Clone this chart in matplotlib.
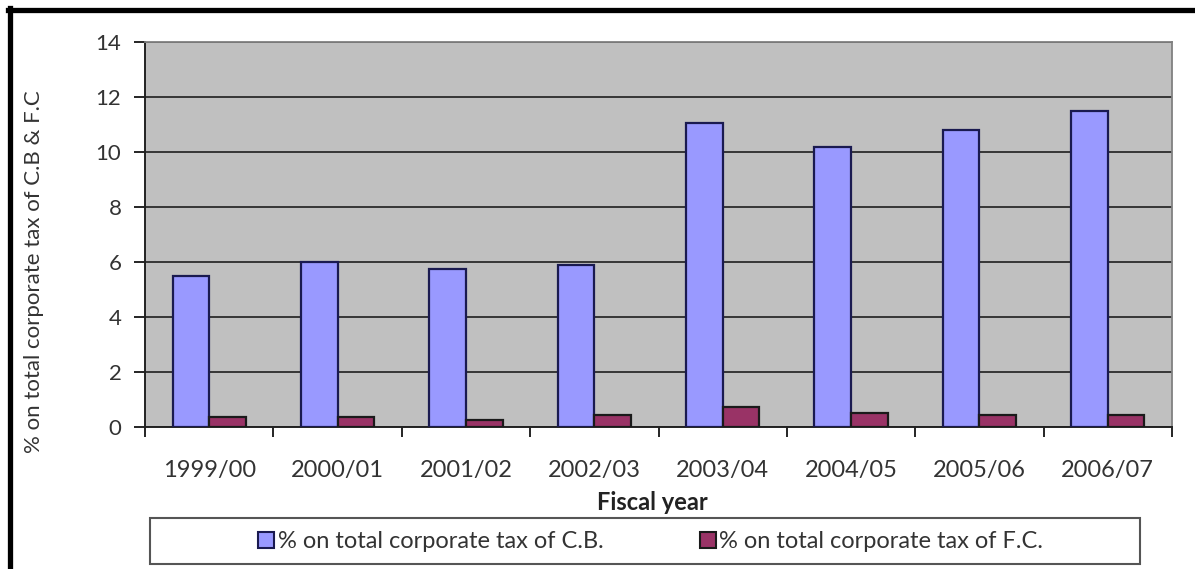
import numpy as np
import matplotlib.pyplot as plt
from matplotlib.patches import Rectangle
from matplotlib.lines import Line2D

plt.rcParams['font.family'] = ['Lato', 'DejaVu Sans']

years = ['1999/00', '2000/01', '2001/02', '2002/03', '2003/04', '2004/05', '2005/06', '2006/07']
cb_share = [5.5, 6.0, 5.75, 5.9, 11.05, 10.2, 10.8, 11.5]
fc_share = [0.38, 0.38, 0.26, 0.44, 0.72, 0.5, 0.44, 0.44]
cb_label = '% on total corporate tax of C.B.'
fc_label = '% on total corporate tax of F.C.'

W, H = 1195, 569
fig = plt.figure(figsize=(W / 100, H / 100), dpi=100)
ax = fig.add_axes([145 / W, 1 - 427 / H, (1172 - 145) / W, (427 - 42) / H])

x = np.arange(len(years))
w = 1 / 3.5
ax.bar(x - w / 2, cb_share, w, color='#9999FF', edgecolor='#1a1a50', linewidth=1.6, zorder=3)
ax.bar(x + w / 2, fc_share, w, color='#993366', edgecolor='#1a1a1a', linewidth=1.6, zorder=3)

ax.set_facecolor('#C0C0C0')
ax.set_xlim(-0.5, len(years) - 0.5)
ax.set_ylim(0, 14)
ax.set_yticks(range(0, 15, 2))
ax.yaxis.grid(True, color='#2b2b2b', linewidth=1.3, zorder=1)
ax.set_axisbelow(True)

# category boundaries carry the x ticks, labels sit in the middle
ax.set_xticks(np.arange(-0.5, len(years) + 0.5, 1))
ax.set_xticklabels([])
ax.set_xticks(x, minor=True)
ax.set_xticklabels(years, minor=True, fontsize=17, color='#333333')
ax.tick_params(axis='x', which='minor', length=0, pad=24)
ax.tick_params(axis='x', which='major', length=7, width=1.2, direction='out')
ax.tick_params(axis='y', length=8, width=1.2, direction='out', labelsize=16,
               labelcolor='#333333', pad=9)

for s in ['top', 'right']:
    ax.spines[s].set_color('#808080')
    ax.spines[s].set_linewidth(1.3)
for s in ['left', 'bottom']:
    ax.spines[s].set_color('#222222')
    ax.spines[s].set_linewidth(1.4)

fig.text(34 / W, 1 - 272 / H, '% on total corporate tax of C.B & F.C', fontsize=16,
         color='#333333', rotation=90, ha='center', va='center')
fig.text(652 / W, 1 - 503 / H, 'Fiscal year', fontsize=17, fontweight='bold',
         color='#222222', ha='center', va='center')

# legend box under the chart
fig.patches.append(Rectangle((150 / W, 1 - 564 / H), (1140 - 150) / W, 46 / H,
                             transform=fig.transFigure, fill=False, edgecolor='#555555',
                             linewidth=1.5))
handles = [Line2D([], [], marker='s', linestyle='none', markersize=12,
                  markerfacecolor='#9999FF', markeredgecolor='#1a1a50', markeredgewidth=1.5),
           Line2D([], [], marker='s', linestyle='none', markersize=12,
                  markerfacecolor='#993366', markeredgecolor='#1a1a1a', markeredgewidth=1.5)]
fig.legend(handles, [cb_label, fc_label], loc='center', ncol=2,
           bbox_to_anchor=(650 / W, 1 - 542 / H), frameon=False, handlelength=0.8,
           fontsize=17, handletextpad=0.1, columnspacing=4, labelcolor='#333333')

# heavy frame on the top and left edges
fig.add_artist(Line2D([8 / W, 1], [1 - 10 / H, 1 - 10 / H], transform=fig.transFigure,
                      color='black', linewidth=3.8))
fig.add_artist(Line2D([10 / W, 10 / W], [0, 1 - 8 / H], transform=fig.transFigure,
                      color='black', linewidth=3.8))

fig.savefig('out.png', dpi=100, facecolor='white')
